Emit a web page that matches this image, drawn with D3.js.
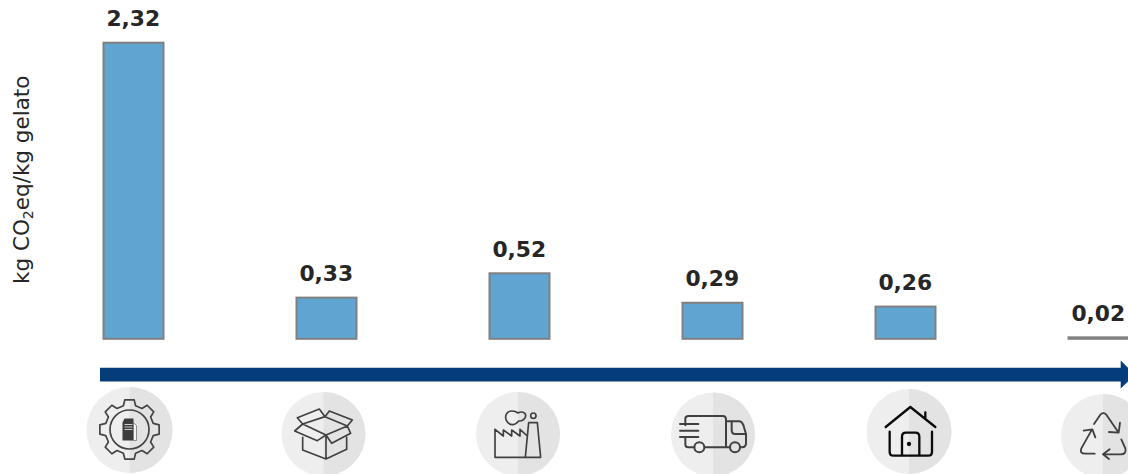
<!DOCTYPE html>
<html>
<head>
<meta charset="utf-8">
<script src="https://cdn.jsdelivr.net/npm/d3@7/dist/d3.min.js"></script>
<style>
html,body{margin:0;padding:0;background:#fff;overflow:hidden}
svg{display:block}
text{font-family:"DejaVu Sans",sans-serif;fill:#262626}
</style>
</head>
<body>
<svg id="c" width="1128" height="474"></svg>
<script>
const stages = ["production", "packaging", "factory", "transport", "home", "recycling"];
const values = [2.32, 0.33, 0.52, 0.29, 0.26, 0.02];
const valueLabels = ["2,32", "0,33", "0,52", "0,29", "0,26", "0,02"];

const svg = d3.select("#c");
const x = d3.scalePoint().domain(stages).range([133.5, 1098.5]);
const y = d3.scaleLinear().domain([0, 2.32]).range([339.9, 42.7]);
const barW = 60;
const barBottom = 338.8;

// y axis title
const yt = svg.append("text").attr("transform", "translate(29,284) rotate(-90)").attr("font-size", 21.5);
yt.append("tspan").text("kg CO");
yt.append("tspan").attr("font-size", 14).attr("dy", 4).text("2");
yt.append("tspan").attr("dy", -4).text("eq/kg gelato");

// bars
svg.selectAll("rect.bar").data(stages).join("rect").attr("class", "bar")
  .attr("x", d => x(d) - barW / 2)
  .attr("y", (d, i) => y(values[i]))
  .attr("width", barW)
  .attr("height", (d, i) => barBottom - y(values[i]))
  .attr("fill", "#60a5d1").attr("stroke", "#808080").attr("stroke-width", 2);

// value labels
svg.selectAll("text.val").data(stages).join("text").attr("class", "val")
  .attr("x", d => x(d) - 0.2)
  .attr("y", (d, i) => y(values[i]) - 16.5)
  .attr("text-anchor", "middle").attr("font-size", 21.8).attr("font-weight", "bold")
  .text((d, i) => valueLabels[i]);

// timeline arrow
svg.append("path").attr("fill", "#053c7a")
  .attr("d", "M100 367.7H1120.7V360.5L1135 374.6L1120.7 388.6V381.4H100Z");

// icon backdrops
const discs = [[129.5, 430, 43], [323.5, 434, 42], [518, 434, 42], [713, 434.5, 42], [909, 431.5, 42.5], [1103, 436, 42]];
discs.forEach(([cx, cy, r]) => {
  svg.append("circle").attr("cx", cx).attr("cy", cy).attr("r", r).attr("fill", "#eeeeee");
  svg.append("path").attr("fill", "#e3e3e3")
    .attr("d", d3.arc()({innerRadius: 0, outerRadius: r, startAngle: 0, endAngle: Math.PI}))
    .attr("transform", `translate(${cx},${cy})`);
});

function icon(ox, oy, color, sw) {
  return svg.append("g").attr("transform", `translate(${ox},${oy}) scale(${1/3})`)
    .attr("fill", "none").attr("stroke", color).attr("stroke-width", sw)
    .attr("stroke-linejoin", "round").attr("stroke-linecap", "round");
}

// gear icon
(function () {
  const g = svg.append("g").attr("transform", "translate(129.5,429.5)")
    .attr("fill", "none").attr("stroke", "#444").attr("stroke-width", 1.7).attr("stroke-linejoin", "round");
  const teeth = 8, ro = 30, ri = 24.5, pts = [];
  for (let i = 0; i < teeth; i++) {
    const a = i * 2 * Math.PI / teeth, s = 2 * Math.PI / teeth;
    pts.push([a - s * 0.2, ro], [a + s * 0.2, ro], [a + s * 0.32, ri], [a + s * 0.68, ri]);
  }
  g.append("path").attr("d", d3.lineRadial().curve(d3.curveLinearClosed)(pts));
  g.append("circle").attr("r", 19.5);
  g.append("path").attr("fill", "#3c3c3c").attr("stroke", "none").attr("d", "M-7 -7L-5 -11H4L4 11H-7Z");
  g.append("path").attr("fill", "#f4f4f4").attr("stroke", "#666").attr("stroke-width", 0.7).attr("d", "M4 -7L7 -4V11H4Z");
  g.append("path").attr("stroke", "#ddd").attr("stroke-width", 0.9).attr("d", "M-5 -5H3M-5 -2.5H3M-5 0H3");
})();

// box icon
icon(60, 350, "#404040", 5).append("path").attr("d",
  "M728 222L795 200L862 228L798 255Z M728 222L712 203L778 177L795 200 M795 200L808 183L877 210L862 228 M728 222L704 243L772 272L798 255 M798 255L815 280L872 250L862 228 M728 262L728 300L798 327L860 298L860 262 M798 255L798 327");

// factory icon
(function () {
  const g = icon(450, 350, "#404040", 5);
  g.append("path").attr("d",
    "M135 238L135 322L272 322L262 218L236 218L226 322 M135 238L160 258L160 240L185 258L185 240L210 258L210 238L232 258");
  g.append("path").attr("d", "M186 183C172 183 166 194 167 204C168 216 178 225 190 224C198 223 203 217 206 213C216 214 227 207 227 197C227 187 214 183 204 189C199 185 193 183 186 183Z");
  g.append("circle").attr("cx", 250).attr("cy", 197).attr("r", 8);
})();

// truck icon
(function () {
  const g = icon(450, 350, "#404040", 6);
  g.append("path").attr("d",
    "M706 226L706 206Q706 198 716 198L818 198Q828 198 828 208L828 292 M765 292L838 292 M733 292L714 292Q706 292 706 282L706 262 M828 214L868 214Q875 214 880 225L888 252L888 280Q888 292 876 292L871 292 M845 216L845 240Q845 252 855 252L888 252 M690 222L745 222 M690 242L745 242 M690 261L745 261");
  g.append("circle").attr("cx", 748).attr("cy", 292).attr("r", 15);
  g.append("circle").attr("cx", 855).attr("cy", 292).attr("r", 15);
})();

// house icon
(function () {
  const g = icon(848, 300, "#0c0c0c", 7);
  g.append("path").attr("d",
    "M113 381L187 321L262 381 M232 337L232 355 M125 395L125 455Q125 467 137 467L240 467Q252 467 252 455L252 395 M162 467L162 410Q162 398 174 398L202 398Q214 398 214 410L214 467");
  g.append("circle").attr("cx", 183).attr("cy", 432).attr("r", 3).attr("fill", "#0c0c0c");
})();

// recycling icon
icon(848, 300, "#404040", 5.5).append("path").attr("d",
  "M738 372L758 343Q766 336 774 343L810 395 M783 396L812 398L816 368 M740 461L712 461Q694 461 700 445L730 392 M707 392L733 388L742 412 M820 418L832 445Q836 463 818 463L765 463 M785 448L765 463L783 477");
</script>
</body>
</html>
